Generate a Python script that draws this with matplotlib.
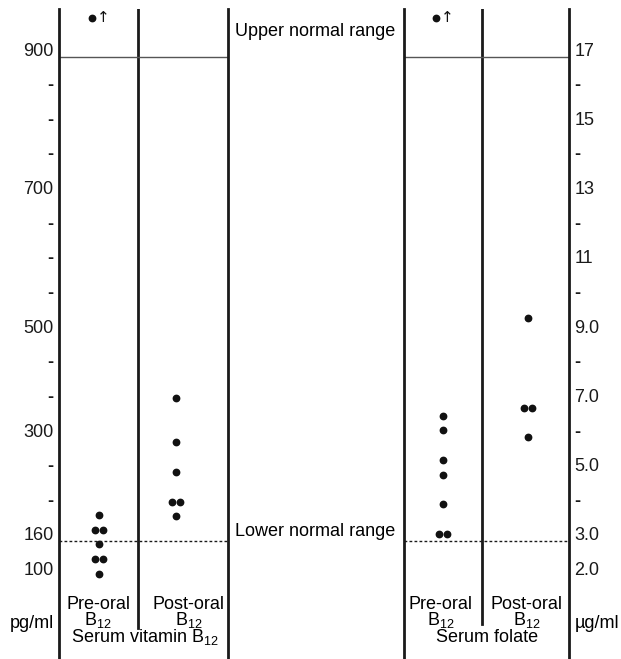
import numpy as np
import matplotlib
matplotlib.use("Agg")
import matplotlib.pyplot as plt
from matplotlib.transforms import offset_copy

plt.rcParams['font.family'] = ['Liberation Sans', 'DejaVu Sans']
plt.rcParams['mathtext.fontset'] = 'custom'
plt.rcParams['mathtext.rm'] = 'Liberation Sans'
plt.rcParams['mathtext.it'] = 'Liberation Sans:italic'
plt.rcParams['mathtext.bf'] = 'Liberation Sans:bold'

# ---------------- data ----------------
groups = ["Pre-oral\nB$_{12}$", "Post-oral\nB$_{12}$"]
b12_pre = [185, 165, 165, 142, 116, 116, 90]
b12_post = [362, 284, 243, 203, 203, 184]
b12_pre_offscale = [945]
b12_upper, b12_lower = 888, 148
b12_label_values = [100, 160, 300, 500, 700, 900]
b12_tick_labels = ["900", "-", "-", "-", "700", "-", "-", "-", "500", "-", "-",
                   "300", "-", "-", "160", "100"]

fol_pre = [6.41, 6.0, 5.13, 4.71, 3.86, 3.0, 3.0]
fol_post = [9.22, 6.65, 6.65, 5.79]
fol_pre_offscale = [17.9]
fol_upper, fol_lower = 16.77, 2.79
fol_tick_labels = ["17", "-", "15", "-", "13", "-", "11", "-", "9.0", "-", "7.0",
                   "-", "5.0", "-", "3.0", "2.0"]

# ---------------- layout ----------------
W, H = 621, 659
fig = plt.figure(figsize=(W / 100, H / 100), dpi=100)

def fx(x):
    return x / W

def fy(y):
    return 1 - y / H

# slot positions of labelled B12 values on the (non-linear) printed axis
b12_slots = [0, 1, 4, 7, 11, 15]

def fwd(v):
    v = np.asarray(v, float)
    t = np.interp(v, b12_label_values, b12_slots)
    t = np.where(v > b12_label_values[-1], b12_slots[-1] + (v - b12_label_values[-1]) / 50.0, t)
    t = np.where(v < b12_label_values[0], (v - b12_label_values[0]) / 60.0, t)
    return t

def inv(t):
    t = np.asarray(t, float)
    v = np.interp(t, b12_slots, b12_label_values)
    v = np.where(t > b12_slots[-1], b12_label_values[-1] + (t - b12_slots[-1]) * 50.0, v)
    v = np.where(t < b12_slots[0], b12_label_values[0] + t * 60.0, v)
    return v

t_bot, t_top = -2.61, 16.155
ax_h = 650 / H

ax1 = fig.add_axes([fx(59), 0, 169 / W, ax_h])
ax2 = fig.add_axes([fx(404), 0, 165 / W, ax_h])

ax1.set_yscale('function', functions=(fwd, inv))
ax1.set_ylim(float(inv(t_bot)), float(inv(t_top)))
ax2.set_ylim(2 + t_bot, 2 + t_top)
ax1.set_xlim(-0.52, 1.675)
ax2.set_xlim(-0.46, 1.48)

for ax in (ax1, ax2):
    ax.patch.set_alpha(0)
    for s in ('top', 'bottom'):
        ax.spines[s].set_visible(False)
    for s in ('left', 'right'):
        ax.spines[s].set_linewidth(2.0)
        ax.spines[s].set_color('#1a1a1a')
    ax.set_xticks([])
    ax.tick_params(axis='y', length=0, pad=4, labelsize=13, colors='#1a1a1a')

# y ticks
slots = np.arange(16)
ax1.set_yticks(inv(15 - slots))
ax1.set_yticklabels(b12_tick_labels)
ax1.yaxis.set_minor_locator(matplotlib.ticker.NullLocator())
ax2.yaxis.tick_right()
ax2.set_yticks(17 - slots)
ax2.set_yticklabels(fol_tick_labels)
for ax in (ax1, ax2):
    for lab in ax.get_yticklabels():
        if lab.get_text() == "-":
            lab.set_fontweight('bold')

# middle dividers
ax1.axvline(0.5, ymin=(659 - 628) / 650, ymax=1, color='#1a1a1a', lw=2.0)
ax2.axvline(0.455, ymin=(659 - 624) / 650, ymax=1, color='#1a1a1a', lw=2.0)

# normal range lines
ax1.axhline(b12_upper, color='#555555', lw=1.0)
ax2.axhline(fol_upper, color='#555555', lw=1.0)
ax1.axhline(b12_lower, color='#1a1a1a', lw=1.0, ls=(0, (2, 1.6)))
ax2.axhline(fol_lower, color='#1a1a1a', lw=1.0, ls=(0, (2, 1.6)))

# dots
def draw_dots(ax, xpos, vals):
    vals = np.asarray(vals, float)
    uniq = []
    for v in vals:
        if v not in uniq:
            uniq.append(v)
    for v in uniq:
        n = int(np.sum(vals == v))
        offs = (np.arange(n) - (n - 1) / 2) * 5.8
        for o in offs:
            tr = offset_copy(ax.transData, fig=fig, x=o, y=0, units='points')
            ax.plot([xpos], [v], 'o', ms=4.6, color='#111111', transform=tr,
                    clip_on=False)

draw_dots(ax1, 0, b12_pre)
draw_dots(ax1, 1, b12_post)
draw_dots(ax2, 0, fol_pre)
draw_dots(ax2, 1, fol_post)

# off-scale markers
for ax, vals in ((ax1, b12_pre_offscale), (ax2, fol_pre_offscale)):
    for v in vals:
        tr = offset_copy(ax.transData, fig=fig, x=-5.3, y=0, units='points')
        ax.plot([0], [v], 'o', ms=4.6, color='#111111', transform=tr, clip_on=False)
        ax.annotate('\u2191', xy=(0, v), xytext=(-1.5, 0), textcoords='offset points',
                    ha='left', va='center', fontsize=11, color='#111111',
                    family=['DejaVu Sans'])

# texts
fs = 13
fig.text(fx(235), fy(32), "Upper normal range", ha='left', va='center', fontsize=fs)
fig.text(fx(235), fy(531), "Lower normal range", ha='left', va='center', fontsize=fs)
fig.text(fx(54), fy(628), "pg/ml", ha='right', va='baseline', fontsize=fs)
fig.text(fx(575), fy(628), "\u00b5g/ml", ha='left', va='baseline', fontsize=fs)

for cx, (l1, l2) in zip([98, 189], [g.split("\n") for g in groups]):
    fig.text(fx(cx), fy(609), l1, ha='center', va='baseline', fontsize=fs)
    fig.text(fx(cx), fy(625), l2, ha='center', va='baseline', fontsize=fs)
for cx, (l1, l2) in zip([441, 527], [g.split("\n") for g in groups]):
    fig.text(fx(cx), fy(609), l1, ha='center', va='baseline', fontsize=fs)
    fig.text(fx(cx), fy(625), l2, ha='center', va='baseline', fontsize=fs)

fig.text(fx(145), fy(642), "Serum vitamin B$_{12}$", ha='center', va='baseline', fontsize=fs)
fig.text(fx(487), fy(642), "Serum folate", ha='center', va='baseline', fontsize=fs)

fig.savefig("out.png", dpi=100)
